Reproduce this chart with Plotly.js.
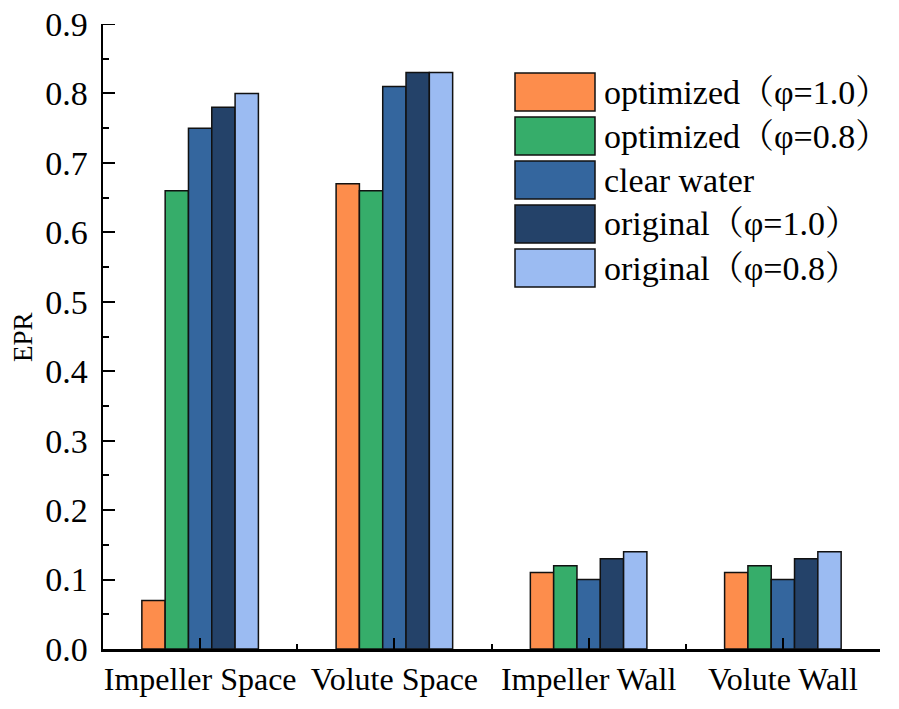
<!DOCTYPE html>
<html>
<head>
<meta charset="utf-8">
<script src="https://cdn.plot.ly/plotly-3.0.1.min.js"></script>
<style>
  html, body { margin: 0; padding: 0; background: #fff; }
  #chart { width: 899px; height: 709px; }
</style>
</head>
<body>
<div id="chart"></div>
<script>
// categories along x
const CATEGORIES = ["Impeller Space", "Volute Space", "Impeller Wall", "Volute Wall"];
const CATEGORY_POS = [0, 1, 2, 3];

// EPR values per series
const OPTIMIZED_10 = [0.07, 0.67, 0.11, 0.11];
const OPTIMIZED_08 = [0.66, 0.66, 0.12, 0.12];
const CLEAR_WATER = [0.75, 0.81, 0.10, 0.10];
const ORIGINAL_10 = [0.78, 0.83, 0.13, 0.13];
const ORIGINAL_08 = [0.80, 0.83, 0.14, 0.14];

const SERIES_NAMES = [
  "optimized（φ=1.0）",
  "optimized（φ=0.8）",
  "clear water",
  "original（φ=1.0）",
  "original（φ=0.8）",
];
const SERIES_VALUES = [OPTIMIZED_10, OPTIMIZED_08, CLEAR_WATER, ORIGINAL_10, ORIGINAL_08];
const SERIES_COLORS = ["#FD8D4C", "#36AD6A", "#34669E", "#244269", "#9BBBF2"];

const Y_TICKS = [0, 0.1, 0.2, 0.3, 0.4, 0.5, 0.6, 0.7, 0.8, 0.9];

const FONT = "Liberation Serif, Times New Roman, Noto Serif CJK SC, Noto Sans CJK SC, serif";

// plot area in pixels
const PLOT = { l: 103, r: 880, t: 24, b: 649 };
const W = 899, H = 709;

function px2paperX(px) { return (px - PLOT.l) / (PLOT.r - PLOT.l); }
function px2paperY(py) { return (PLOT.b - py) / (PLOT.b - PLOT.t); }

const data = SERIES_NAMES.map((name, i) => ({
  type: "bar",
  name: name,
  x: CATEGORY_POS,
  y: SERIES_VALUES[i],
  marker: {
    color: SERIES_COLORS[i],
    line: { color: "#111", width: 1.5 },
  },
  showlegend: false,
  hoverinfo: "y+name",
}));

// custom legend with large swatches
const shapes = [];
const annotations = [];
SERIES_NAMES.forEach((name, i) => {
  const top = 73 + i * 44;
  shapes.push({
    type: "rect",
    xref: "paper", yref: "paper",
    x0: px2paperX(515), x1: px2paperX(595),
    y0: px2paperY(top), y1: px2paperY(top + 38),
    fillcolor: SERIES_COLORS[i],
    line: { color: "#111", width: 1.5 },
  });
  annotations.push({
    xref: "paper", yref: "paper",
    x: px2paperX(602), y: px2paperY(top + 19),
    xanchor: "left", yanchor: "middle",
    text: name,
    showarrow: false,
    font: { family: FONT, size: 34, color: "#000" },
  });
});

// top tick at 0.9 (plotly drops the tick sitting on the range edge)
shapes.push({
  type: "line",
  xref: "paper", yref: "y",
  x0: 0, x1: 12 / (PLOT.r - PLOT.l),
  y0: Y_TICKS[Y_TICKS.length - 1], y1: Y_TICKS[Y_TICKS.length - 1],
  line: { color: "#000", width: 2 },
});

// y axis title placed by hand
annotations.push({
  xref: "paper", yref: "paper",
  x: px2paperX(23), y: px2paperY(337),
  xanchor: "center", yanchor: "middle",
  text: "EPR",
  textangle: -90,
  showarrow: false,
  font: { family: FONT, size: 27, color: "#000" },
});

const layout = {
  width: W,
  height: H,
  margin: { l: PLOT.l, r: W - PLOT.r, t: PLOT.t, b: H - PLOT.b },
  paper_bgcolor: "#fff",
  plot_bgcolor: "#fff",
  font: { family: FONT, color: "#000" },
  barmode: "group",
  bargap: 0.4,
  bargroupgap: 0,
  showlegend: false,
  xaxis: {
    range: [-0.5, 3.5],
    tickmode: "array",
    tickvals: CATEGORY_POS,
    ticktext: CATEGORIES,
    ticks: "inside",
    ticklen: 11,
    tickwidth: 2,
    tickcolor: "#000",
    minor: { tick0: 0.5, dtick: 1, ticks: "inside", ticklen: 5, tickwidth: 2, tickcolor: "#000" },
    showline: true,
    linecolor: "#000",
    linewidth: 2.5,
    showgrid: false,
    zeroline: false,
    layer: "above traces",
    tickfont: { family: FONT, size: 32, color: "#000" },
    ticklabelstandoff: 0,
    automargin: false,
  },
  yaxis: {
    range: [0, 0.9],
    tickmode: "array",
    tickvals: Y_TICKS,
    tickformat: ".1f",
    ticks: "inside",
    ticklen: 12,
    tickwidth: 2,
    tickcolor: "#000",
    minor: { tick0: 0.05, dtick: 0.1, ticks: "inside", ticklen: 6, tickwidth: 2, tickcolor: "#000" },
    showline: true,
    linecolor: "#000",
    linewidth: 2.5,
    showgrid: false,
    zeroline: false,
    layer: "above traces",
    tickfont: { family: FONT, size: 34, color: "#000" },
    ticklabelstandoff: 6,
    automargin: false,
  },
  shapes: shapes,
  annotations: annotations,
};

Plotly.newPlot("chart", data, layout, { displayModeBar: false, staticPlot: true });
</script>
</body>
</html>
